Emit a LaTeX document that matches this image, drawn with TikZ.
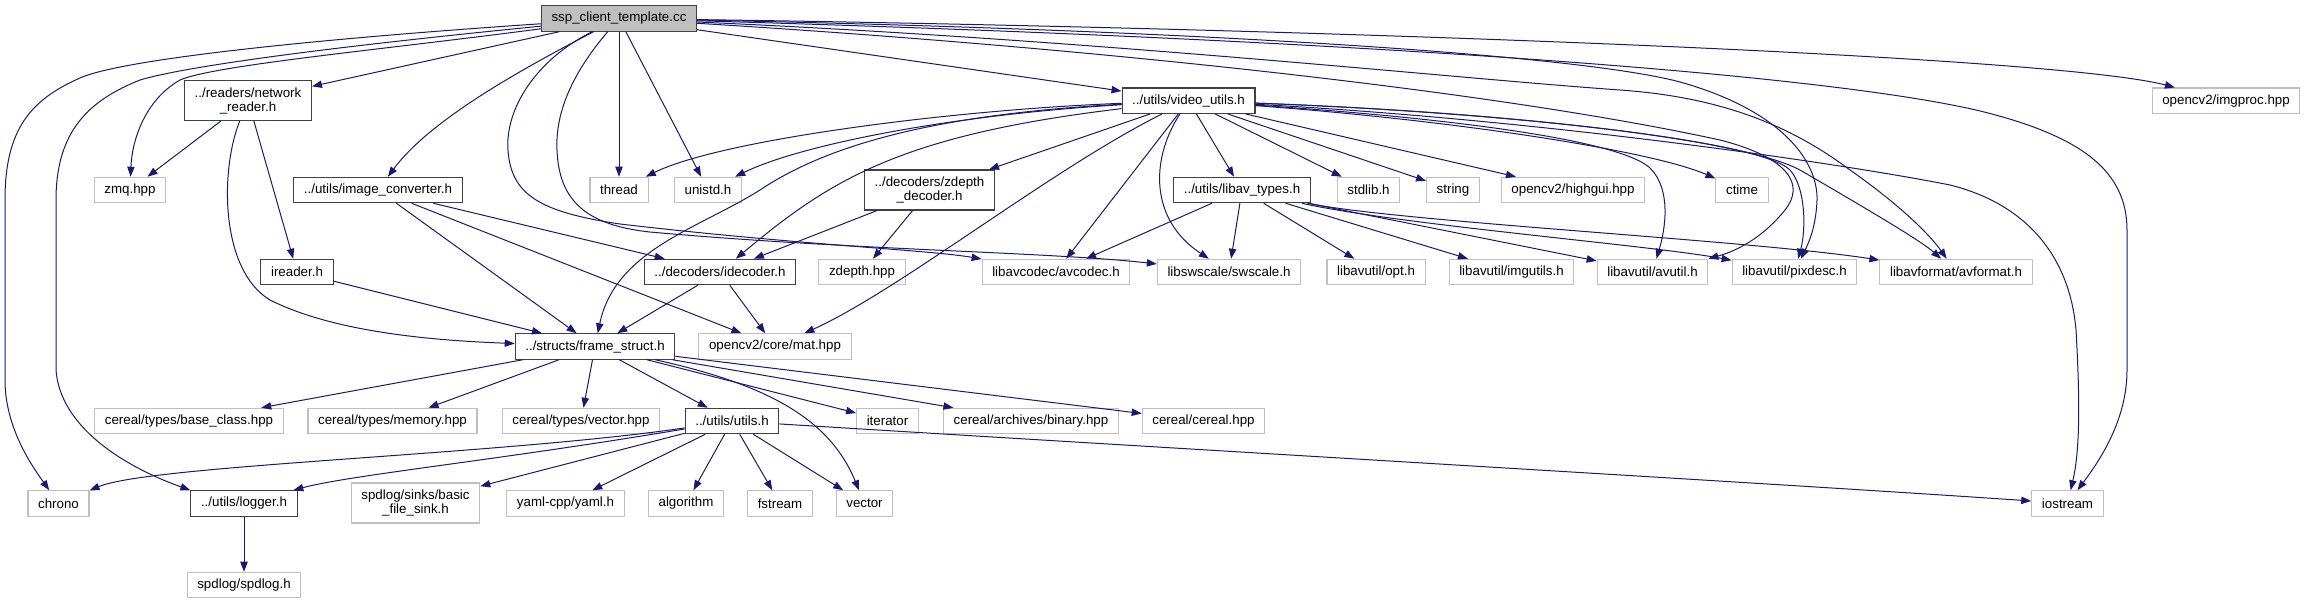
\documentclass[tikz,border=0pt]{standalone}
\usepackage{fontspec}
\setmainfont{Liberation Sans}
\usepackage{xcolor}
\usepackage{tikz}
\usetikzlibrary{arrows.meta}
\definecolor{mynavy}{RGB}{25,25,112}
\definecolor{mydark}{RGB}{64,64,64}
\definecolor{mygrey}{RGB}{191,191,191}
\definecolor{hdrgrey}{RGB}{191,191,191}
\tikzset{
  filenode/.style={rectangle, draw=mydark, fill=white,
    inner xsep=7.6pt, inner ysep=0pt, minimum height=19.1pt,
    font=\fontsize{10}{10.5}\selectfont, line width=0.8pt},
  rootnode/.style={filenode, fill=hdrgrey},
  extnode/.style={filenode, draw=mygrey},
  twoline/.style={align=center, minimum height=30pt},
  arrow/.style={-{Triangle[length=7.5pt, width=5.5pt]}, line width=0.75pt, color=mynavy}
}

\begin{document}
\begin{tikzpicture}[x=0.75pt, y=-0.75pt]
  \useasboundingbox (0,0) rectangle (2316,604);
  % files
  \node[rootnode] (ssp) at (619,18.5) {ssp\_client\_template.cc};
  \node[filenode, twoline] (netreader) at (248,100.5) {../readers/network\\\_reader.h};
  \node[filenode] (vidutils) at (1188.5,100.7) {../utils/video\_utils.h};
  \node[extnode] (imgproc) at (2226,100.7) {opencv2/imgproc.hpp};
  \node[extnode] (zmq) at (130,190) {zmq.hpp};
  \node[filenode] (imgconv) at (378,190) {../utils/image\_converter.h};
  \node[extnode] (thread) at (619,190) {thread};
  \node[extnode] (unistd) at (708,190) {unistd.h};
  \node[filenode, twoline] (zdepthdec) at (929.5,190) {../decoders/zdepth\\\_decoder.h};
  \node[filenode] (libavtypes) at (1242,190) {../utils/libav\_types.h};
  \node[extnode] (stdlib) at (1368.5,190) {stdlib.h};
  \node[extnode] (string) at (1453,190) {string};
  \node[extnode] (highgui) at (1573,190) {opencv2/highgui.hpp};
  \node[extnode] (ctime) at (1742,190) {ctime};
  \node[filenode] (ireader) at (297,272) {ireader.h};
  \node[filenode] (idecoder) at (720,272) {../decoders/idecoder.h};
  \node[extnode] (zdepth) at (862,272) {zdepth.hpp};
  \node[extnode] (avcodec) at (1056,272) {libavcodec/avcodec.h};
  \node[extnode] (swscale) at (1229,272) {libswscale/swscale.h};
  \node[extnode] (opt) at (1376,272) {libavutil/opt.h};
  \node[extnode] (imgutils) at (1511.5,272) {libavutil/imgutils.h};
  \node[extnode] (avutil) at (1652.5,272) {libavutil/avutil.h};
  \node[extnode] (pixdesc) at (1794.5,272) {libavutil/pixdesc.h};
  \node[extnode] (avformat) at (1956,272) {libavformat/avformat.h};
  \node[filenode] (framestruct) at (595,346.5) {../structs/frame\_struct.h};
  \node[extnode] (mat) at (775,346.5) {opencv2/core/mat.hpp};
  \node[extnode] (baseclass) at (189,421) {cereal/types/base\_class.hpp};
  \node[extnode] (memory) at (392.5,421) {cereal/types/memory.hpp};
  \node[extnode] (vectorhpp) at (581,421) {cereal/types/vector.hpp};
  \node[filenode] (utils) at (732,421) {../utils/utils.h};
  \node[extnode] (iterator) at (887.5,421) {iterator};
  \node[extnode] (binary) at (1031,421) {cereal/archives/binary.hpp};
  \node[extnode] (cereal) at (1203.5,421) {cereal/cereal.hpp};
  \node[extnode] (chrono) at (58.5,503.5) {chrono};
  \node[filenode] (logger) at (244,503.5) {../utils/logger.h};
  \node[extnode, twoline] (filesink) at (415.5,503) {spdlog/sinks/basic\\\_file\_sink.h};
  \node[extnode] (yaml) at (565.5,503.5) {yaml-cpp/yaml.h};
  \node[extnode] (algorithm) at (686,503.5) {algorithm};
  \node[extnode] (fstream) at (780,503.5) {fstream};
  \node[extnode] (vector) at (864.5,503.5) {vector};
  \node[extnode] (iostream) at (2067.5,503.5) {iostream};
  \node[extnode] (spdlog) at (244,585) {spdlog/spdlog.h};

  % ssp_client_template.cc
  \draw[arrow] (ssp) .. controls (300,40) and (120,60) .. (80,78) .. controls (30,100) and (5,130) .. (5,200) -- (5,380) .. controls (5,430) and (35,470) .. (chrono);
  \draw[arrow] (ssp) .. controls (350,45) and (190,65) .. (140,80) .. controls (90,100) and (56,130) .. (56,200) -- (56,370) .. controls (60,425) and (120,465) .. (logger.north west);
  \draw[arrow] (ssp) .. controls (380,50) and (215,65) .. (180,80) .. controls (145,100) and (132,140) .. (zmq);
  \draw[arrow] (ssp) -- (netreader);
  \draw[arrow] (ssp) .. controls (520,70) and (430,120) .. (imgconv);
  \draw[arrow] (ssp) .. controls (535,60) and (505,110) .. (508,150) .. controls (511,195) and (540,212) .. (620,224) .. controls (800,245) and (930,250) .. (avcodec);
  \draw[arrow] (ssp) .. controls (575,70) and (555,110) .. (557,150) .. controls (559,200) and (585,225) .. (650,232) .. controls (850,250) and (1050,252) .. (swscale);
  \draw[arrow] (ssp) -- (thread);
  \draw[arrow] (ssp) -- (unistd);
  \draw[arrow] (ssp) -- (vidutils);
  \draw[arrow] (ssp) .. controls (1300,28) and (2050,55) .. (imgproc);
  \draw[arrow] (ssp) .. controls (1300,38) and (1800,70) .. (1976,110) .. controls (2080,135) and (2127,170) .. (2127,230) -- (2127,370) .. controls (2127,420) and (2100,460) .. (iostream);
  \draw[arrow] (ssp) .. controls (1200,30) and (1580,55) .. (1680,82) .. controls (1780,110) and (1818,160) .. (1817,200) .. controls (1816,225) and (1810,240) .. (pixdesc);
  \draw[arrow] (ssp) .. controls (1100,40) and (1450,78) .. (1620,90) .. controls (1720,97) and (1790,125) .. (1850,170) .. controls (1900,205) and (1930,235) .. (avformat);
  \draw[arrow] (ssp) .. controls (1100,48) and (1500,92) .. (1720,140) .. controls (1790,158) and (1805,185) .. (1785,210) .. controls (1765,235) and (1740,250) .. (avutil.north east);

  % video_utils.h
  \draw[arrow] (vidutils) .. controls (950,110) and (720,140) .. (thread);
  \draw[arrow] (vidutils) .. controls (950,115) and (800,145) .. (unistd);
  \draw[arrow] (vidutils) .. controls (900,135) and (830,180) .. (idecoder);
  \draw[arrow] (vidutils) -- (zdepthdec);
  \draw[arrow] (vidutils) .. controls (920,115) and (820,150) .. (760,190) .. controls (700,228) and (615,250) .. (framestruct);
  \draw[arrow] (vidutils) .. controls (1050,170) and (900,290) .. (mat);
  \draw[arrow] (vidutils) -- (avcodec);
  \draw[arrow] (vidutils) .. controls (1150,160) and (1150,220) .. (swscale);
  \draw[arrow] (vidutils) -- (libavtypes);
  \draw[arrow] (vidutils) -- (stdlib);
  \draw[arrow] (vidutils) -- (string);
  \draw[arrow] (vidutils) -- (highgui);
  \draw[arrow] (vidutils) .. controls (1450,120) and (1650,150) .. (ctime);
  \draw[arrow] (vidutils) .. controls (1450,118) and (1620,140) .. (1650,168) .. controls (1672,190) and (1665,230) .. (avutil);
  \draw[arrow] (vidutils) .. controls (1500,112) and (1760,140) .. (1790,170) .. controls (1806,188) and (1806,230) .. (pixdesc);
  \draw[arrow] (vidutils) .. controls (1500,112) and (1740,138) .. (1800,170) .. controls (1860,205) and (1920,240) .. (avformat);
  \draw[arrow] (vidutils) .. controls (1550,120) and (1850,165) .. (1950,185) .. controls (2030,205) and (2070,260) .. (2076,330) .. controls (2080,400) and (2080,450) .. (iostream);

  % libav_types.h
  \draw[arrow] (libavtypes) -- (avcodec);
  \draw[arrow] (libavtypes) -- (swscale);
  \draw[arrow] (libavtypes) -- (opt);
  \draw[arrow] (libavtypes) -- (imgutils);
  \draw[arrow] (libavtypes) -- (avutil);
  \draw[arrow] (libavtypes) .. controls (1400,225) and (1650,245) .. (pixdesc);
  \draw[arrow] (libavtypes) .. controls (1400,222) and (1750,240) .. (avformat);

  % readers and decoders
  \draw[arrow] (netreader) -- (zmq);
  \draw[arrow] (netreader) -- (ireader);
  \draw[arrow] (netreader) .. controls (220,170) and (220,270) .. (270,300) .. controls (330,330) and (420,340) .. (framestruct);
  \draw[arrow] (imgconv) -- (framestruct);
  \draw[arrow] (imgconv) -- (mat);
  \draw[arrow] (imgconv) -- (idecoder);
  \draw[arrow] (zdepthdec) -- (idecoder);
  \draw[arrow] (zdepthdec) -- (zdepth);
  \draw[arrow] (ireader) -- (framestruct);
  \draw[arrow] (idecoder) -- (framestruct);
  \draw[arrow] (idecoder) -- (mat);

  % frame_struct.h
  \draw[arrow] (framestruct) -- (baseclass);
  \draw[arrow] (framestruct) -- (memory);
  \draw[arrow] (framestruct) -- (vectorhpp);
  \draw[arrow] (framestruct) -- (utils);
  \draw[arrow] (framestruct) -- (iterator);
  \draw[arrow] (framestruct) -- (binary);
  \draw[arrow] (framestruct) -- (cereal);
  \draw[arrow] (framestruct) .. controls (770,385) and (830,420) .. (vector);

  % utils.h
  \draw[arrow] (utils) .. controls (500,455) and (150,465) .. (chrono);
  \draw[arrow] (utils) .. controls (500,460) and (350,475) .. (logger);
  \draw[arrow] (utils) -- (filesink);
  \draw[arrow] (utils) -- (yaml);
  \draw[arrow] (utils) -- (algorithm);
  \draw[arrow] (utils) -- (fstream);
  \draw[arrow] (utils) -- (vector);
  \draw[arrow] (utils) .. controls (1200,450) and (1800,485) .. (iostream);
  \draw[arrow] (logger) -- (spdlog);
\end{tikzpicture}
\end{document}
